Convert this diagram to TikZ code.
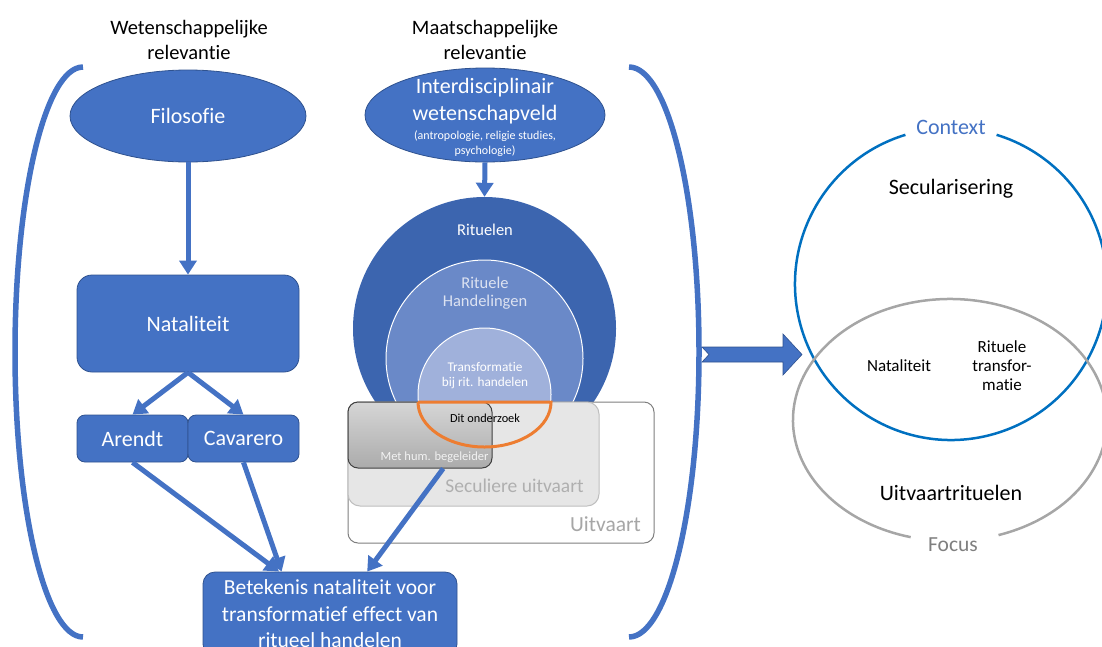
\documentclass[tikz,border=0pt]{standalone}
\usepackage{fontspec}
\setmainfont{Carlito}[Ligatures=NoCommon]
\usetikzlibrary{arrows.meta,shapes.geometric,calc}
\definecolor{mainblue}{HTML}{4472C4}
\definecolor{bord}{HTML}{2F528F}
\definecolor{cOuter}{HTML}{3C65AF}
\definecolor{cMid}{HTML}{6A89C8}
\definecolor{cIn}{HTML}{A0B1DB}
\definecolor{ctxblue}{HTML}{0070C0}
\definecolor{focgray}{HTML}{A6A6A6}
\definecolor{focustext}{HTML}{7F7F7F}
\definecolor{orng}{HTML}{ED7D31}
\definecolor{secfill}{HTML}{E6E6E6}
\definecolor{secline}{HTML}{BFBFBF}
\definecolor{sectext}{HTML}{AFAFAF}
\definecolor{uitline}{HTML}{7F7F7F}
\definecolor{uittext}{HTML}{A6A6A6}
\definecolor{midtext}{HTML}{DCE2F1}
\definecolor{methline}{HTML}{404040}
\definecolor{methtop}{HTML}{D6D6D6}
\definecolor{methbot}{HTML}{ABABAB}
\definecolor{methtext}{HTML}{F2F2F2}
\newcommand\fs[2]{\fontsize{#1}{#2}\selectfont}
\begin{document}
\begin{tikzpicture}[x=1pt,y=1pt,
  bluebox/.style={draw=bord, fill=mainblue, line width=0.8pt, text=white, align=center, inner sep=0pt},
  conn/.style={draw=mainblue, line width=5pt, -{Triangle[length=14pt,width=17pt]}},
  lbl/.style={inner sep=0pt, align=center},
  bracket/.style={draw=mainblue, line width=5.5pt},
  greybox/.style={inner sep=0pt, line width=1pt},
]
\clip (0,0) rectangle (1102,-646);

% headings
\node[lbl, font=\fs{20.5}{25}] (hw) at (189,-40) {Wetenschappelijke\\relevantie};
\node[lbl, font=\fs{20.5}{25}] (hm) at (485,-40) {Maatschappelijke\\relevantie};

% brackets
\draw[bracket] (83,-67) arc[start angle=90, end angle=270, x radius=68, y radius=285];
\draw[bracket] (629,-67) arc[start angle=90, end angle=-90, x radius=70, y radius=285];

% left column
\node[bluebox, ellipse, minimum width=236pt, minimum height=92pt, font=\fs{22}{26}] (filo) at (188,-116) {Filosofie};
\node[bluebox, rounded corners=15pt, minimum width=222pt, minimum height=97pt, font=\fs{22}{26}] (nat) at (188,-323.5) {Nataliteit};
\node[bluebox, rounded corners=8pt, minimum width=111pt, minimum height=47pt, font=\fs{22}{26}] (aren) at (132.5,-438.5) {Arendt};
\node[bluebox, rounded corners=8pt, minimum width=111pt, minimum height=47pt, font=\fs{22}{26}] (cav) at (243.5,-438.5) {Cavarero};
\node[bluebox, rounded corners=12pt, minimum width=254pt, minimum height=84pt, font=\fs{21.5}{26.5}] (bet) at (330,-614) {Betekenis nataliteit voor\\transformatief effect van\\ritueel handelen};

% middle column
\node[bluebox, ellipse, minimum width=240pt, minimum height=94pt] (inter) at (485,-115) {};
\node[lbl, text=white, font=\fs{22}{27}] (intert) at (485,-101) {Interdisciplinair\\wetenschapveld};
\node[lbl, text=white, font=\fs{12}{15}] (inters) at (485,-144) {(antropologie, religie studies,\\psychologie)};

\node[circle, fill=cOuter, minimum size=263pt, inner sep=0pt] (rit) at (484.5,-328.5) {};
\node[circle, fill=cMid, draw=white, line width=1pt, minimum size=197pt, inner sep=0pt] (rh) at (484.5,-358.5) {};
\node[circle, fill=cIn, draw=white, line width=1pt, minimum size=133pt, inner sep=0pt] (tr) at (484.5,-394.5) {};
\node[lbl, text=white, font=\fs{16.5}{20}] (ritt) at (485,-230) {Rituelen};
\node[lbl, text=midtext, font=\fs{16.5}{18}] (rht) at (485,-293) {Rituele\\Handelingen};
\node[lbl, text=white, font=\fs{13.3}{15.5}] (trt) at (485,-375.5) {Transformatie\\bij rit. handelen};

\node[greybox, draw=uitline, fill=white, rounded corners=10pt, minimum width=306pt, minimum height=141pt] (uit) at (501,-472.5) {};
\node[greybox, draw=secline, fill=secfill, rounded corners=12pt, minimum width=251pt, minimum height=104pt] (sec) at (473.5,-454) {};
\node[greybox, draw=methline, top color=methtop, bottom color=methbot, rounded corners=10pt, minimum width=144pt, minimum height=66pt] (meth) at (420,-435) {};
\node[lbl, text=uittext, font=\fs{21.5}{26}, anchor=east] (uitt) at (641,-524) {Uitvaart};
\node[lbl, text=sectext, font=\fs{19.5}{24}] (sect) at (514.5,-486) {Seculiere uitvaart};
\node[lbl, text=methtext, font=\fs{12.5}{15}] (metht) at (434.5,-457) {Met hum. begeleider};

\draw[orng, line width=3pt] (418,-402) -- (551,-402) arc[start angle=0, end angle=-180, x radius=66.5, y radius=45];
\node[lbl, font=\fs{12.3}{15}] (dit) at (485,-418) {Dit onderzoek};

% connectors
\draw[conn] (filo.south) -- (nat.north);
\draw[conn] (nat.south) -- (aren.north);
\draw[conn] (nat.south) -- (cav.north);
\draw[conn] (aren.south) -- ($(bet.north west)!0.30!(bet.north east)$);
\draw[conn] (cav.south) -- ($(bet.north west)!0.31!(bet.north east)$);
\draw[conn] ($(meth.south west)!0.66!(meth.south east)$) -- ($(bet.north west)!0.646!(bet.north east)$);
\draw[conn] (inter.south) -- (rit.north);

% big arrow
\filldraw[fill=mainblue, draw=bord, line width=0.6pt] (702,-347) -- (783,-347) -- (783,-334) -- (802,-354.5) -- (783,-375) -- (783,-362) -- (702,-362) -- (709,-354.5) -- cycle;

% Venn
\draw[ctxblue, line width=2.5pt] (951,-284) ++(107:156) arc[start angle=107, end angle=433, radius=156];
\draw[focgray, line width=2.5pt] (950,-420) ++(288:157 and 121) arc[start angle=288, end angle=615.5, x radius=157, y radius=121];
\node[lbl, text=mainblue, font=\fs{22}{26}] (ctx) at (951,-127) {Context};
\node[lbl, font=\fs{22}{26}] (secu) at (951,-189) {Secularisering};
\node[lbl, font=\fs{17}{19}] (natr) at (899,-366) {Nataliteit};
\node[lbl, font=\fs{17}{19}] (rtr) at (1002,-366) {Rituele\\transfor-\\matie};
\node[lbl, font=\fs{22}{26}] (uvr) at (951,-493) {Uitvaartrituelen};
\node[lbl, text=focustext, font=\fs{21.5}{26}] (foc) at (953,-545) {Focus};
\end{tikzpicture}
\end{document}
